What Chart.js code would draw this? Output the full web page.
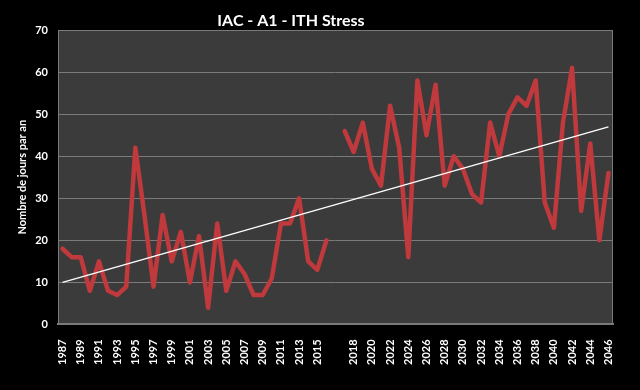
<!DOCTYPE html>
<html>
<head>
<meta charset="utf-8">
<script src="https://cdn.jsdelivr.net/npm/chart.js@4.4.1/dist/chart.umd.min.js"></script>
<style>
  html, body { margin: 0; padding: 0; background: #000; }
  #wrap { width: 640px; height: 390px; }
</style>
</head>
<body>
<div id="wrap"><canvas id="ithChart" width="640" height="390"></canvas></div>
<script>
// years before the gap and after it (one empty slot sits between them)
var yearsA = ['1987','1988','1989','1990','1991','1992','1993','1994','1995','1996',
              '1997','1998','1999','2000','2001','2002','2003','2004','2005','2006',
              '2007','2008','2009','2010','2011','2012','2013','2014','2015','2016'];
var yearsB = ['2017','2018','2019','2020','2021','2022','2023','2024','2025','2026',
              '2027','2028','2029','2030','2031','2032','2033','2034','2035','2036',
              '2037','2038','2039','2040','2041','2042','2043','2044','2045','2046'];

var valuesA = [18, 16, 16, 8, 15, 8, 7, 9, 42, 26,
               9, 26, 15, 22, 10, 21, 4, 24, 8, 15,
               12, 7, 7, 11, 24, 24, 30, 15, 13, 20];
var valuesB = [46, 41, 48, 37, 33, 52, 42, 16, 58, 45,
               57, 33, 40, 37, 31, 29, 48, 40, 50, 54,
               52, 58, 29, 23, 48, 61, 27, 43, 20, 36];

var trendStart = 10;
var trendEnd = 47;

var yTicks = [0, 10, 20, 30, 40, 50, 60, 70];

var labels = yearsA.concat(['']).concat(yearsB);
var series = valuesA.concat([null]).concat(valuesB);
var trend = labels.map(function(l, i) {
    if (i === 0) return trendStart;
    if (i === labels.length - 1) return trendEnd;
    return null;
});

var fontFam = 'Lato, "Liberation Sans", sans-serif';

var plotBg = {
    id: 'plotBg',
    beforeDraw: function(chart) {
        var c = chart.ctx, a = chart.chartArea;
        c.save();
        c.fillStyle = '#000';
        c.fillRect(0, 0, chart.width, chart.height);
        c.fillStyle = '#3b3b3b';
        c.fillRect(a.left, a.top, a.right - a.left, a.bottom - a.top);
        c.strokeStyle = '#7a7a7a';
        c.lineWidth = 1;
        c.strokeRect(a.left + 0.5, a.top + 0.5, a.right - a.left - 1, a.bottom - a.top - 1);
        c.restore();
    },
    afterDraw: function(chart) {
        var c = chart.ctx;
        c.save();
        c.fillStyle = '#fff';
        c.font = 'bold 16px ' + fontFam;
        c.textAlign = 'center';
        c.textBaseline = 'middle';
        c.fillText('IAC - A1 - ITH Stress', 291, 21);
        c.restore();
    }
};

var ctx = document.getElementById('ithChart');
new Chart(ctx, {
    type: 'line',
    data: {
        labels: labels,
        datasets: [{
            data: trend,
            borderColor: '#ffffff',
            borderWidth: 1.3,
            pointRadius: 0,
            spanGaps: true,
            tension: 0
        }, {
            data: series,
            borderColor: '#c0393c',
            borderWidth: 4.5,
            pointRadius: 0,
            spanGaps: false,
            tension: 0,
            borderJoinStyle: 'round',
            borderCapStyle: 'round'
        }]
    },
    options: {
        responsive: false,
        animation: false,
        layout: {
            padding: { top: 30, left: 16, right: 27, bottom: 18 }
        },
        plugins: {
            legend: { display: false },
            tooltip: { enabled: false },
            title: { display: false }
        },
        scales: {
            x: {
                offset: true,
                grid: { display: false },
                border: { display: true, color: '#7a7a7a', width: 2 },
                ticks: {
                    autoSkip: false,
                    maxRotation: 90,
                    minRotation: 90,
                    color: '#fff',
                    padding: 7,
                    font: { family: fontFam, size: 11, weight: 'bold' },
                    callback: function(v, i) {
                        return i % 2 === 0 ? labels[i] : '';
                    }
                }
            },
            y: {
                min: 0,
                max: 70,
                afterBuildTicks: function(axis) {
                    axis.ticks = yTicks.map(function(v) { return { value: v }; });
                },
                afterFit: function(axis) { axis.width = 42; },
                grid: { color: '#7a7a7a', lineWidth: 1, drawTicks: false },
                border: { display: false },
                ticks: {
                    color: '#fff',
                    padding: 10,
                    font: { family: fontFam, size: 11, weight: 'bold' }
                },
                title: {
                    display: true,
                    text: 'Nombre de jours par an',
                    color: '#fff',
                    padding: { top: 0, bottom: 4 },
                    font: { family: fontFam, size: 11, weight: 'bold' }
                }
            }
        }
    },
    plugins: [plotBg]
});
</script>
</body>
</html>
